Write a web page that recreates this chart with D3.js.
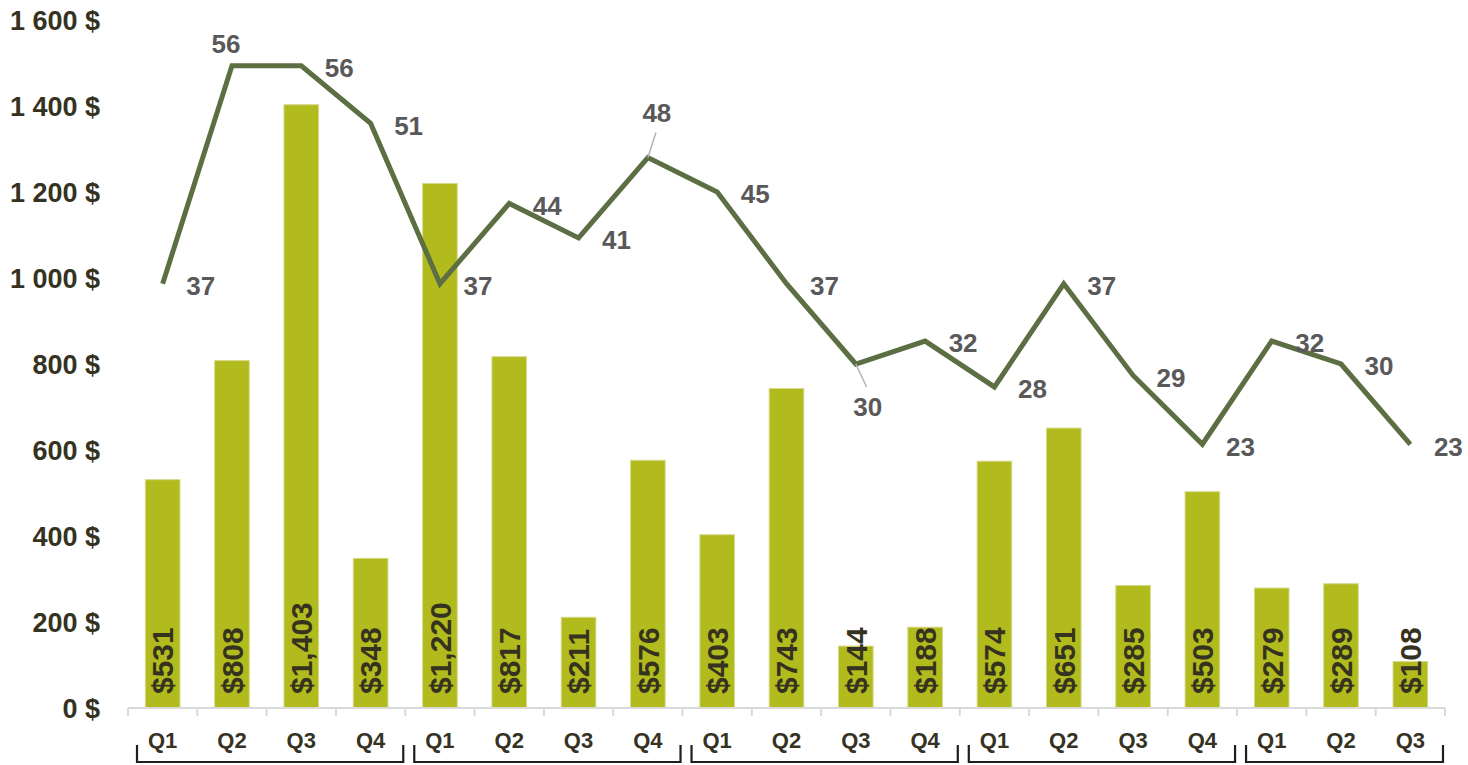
<!DOCTYPE html>
<html>
<head>
<meta charset="utf-8">
<script src="https://cdn.jsdelivr.net/npm/d3@7"></script>
<style>
  body { margin: 0; background: #fff; }
  svg text { font-family: "Liberation Sans", Arial, sans-serif; font-weight: bold; }
</style>
</head>
<body>
<div id="chart"></div>
<script>
// quarters, one bar per quarter
const quarters = ['Q1', 'Q2', 'Q3', 'Q4', 'Q1', 'Q2', 'Q3', 'Q4', 'Q1', 'Q2', 'Q3', 'Q4',
  'Q1', 'Q2', 'Q3', 'Q4', 'Q1', 'Q2', 'Q3'];
const groupSizes = [4, 4, 4, 4, 3];
const amounts = [531, 808, 1403, 348, 1220, 817, 211, 576, 403, 743, 144, 188,
  574, 651, 285, 503, 279, 289, 108];
const counts = [37, 56, 56, 51, 37, 44, 41, 48, 45, 37, 30, 32, 28, 37, 29, 23, 32, 30, 23];
const yTicks = [0, 200, 400, 600, 800, 1000, 1200, 1400, 1600];

const width = 1468;
const height = 765;
const margin = { top: 20, right: 23, bottom: 57, left: 128 };
const barColor = '#b2bb1e';
const lineColor = '#5c6f43';
const textDark = '#35321f';

const svg = d3.select('#chart')
  .append('svg')
  .attr('width', width)
  .attr('height', height);

const idx = d3.range(quarters.length);

const x = d3.scaleBand()
  .domain(idx)
  .range([margin.left, width - margin.right])
  .paddingInner(0.5)
  .paddingOuter(0.25);

const y = d3.scaleLinear()
  .domain([0, 1600])
  .range([height - margin.bottom, margin.top]);

const y2 = d3.scaleLinear()
  .domain([0, 60])
  .range([height - margin.bottom, margin.top]);

const fmt = d3.format('$,');
const spaceFmt = d => d3.format(',')(d).replace(',', ' ') + ' $';

// y axis labels
svg.append('g')
  .selectAll('text')
  .data(yTicks)
  .enter()
  .append('text')
  .attr('x', 100)
  .attr('y', d => y(d))
  .attr('dy', '0.36em')
  .attr('text-anchor', 'end')
  .attr('fill', textDark)
  .style('font-size', '27px')
  .text(spaceFmt);

// bars
svg.append('g')
  .selectAll('rect')
  .data(idx)
  .enter()
  .append('rect')
  .attr('x', i => x(i))
  .attr('y', i => y(amounts[i]))
  .attr('width', x.bandwidth())
  .attr('height', i => y(0) - y(amounts[i]))
  .attr('fill', barColor)
  .attr('stroke', '#d6da8c')
  .attr('stroke-width', 1);

// x axis line + ticks
const x0 = margin.left;
const x1 = width - margin.right;
const step = x.step();
const axis = svg.append('g').attr('stroke', '#d9d9d9').attr('stroke-width', 2);
axis.append('line')
  .attr('x1', x0).attr('x2', x1)
  .attr('y1', y(0)).attr('y2', y(0));
axis.selectAll('.tick')
  .data(d3.range(quarters.length + 1))
  .enter()
  .append('line')
  .attr('x1', i => x0 + i * step)
  .attr('x2', i => x0 + i * step)
  .attr('y1', y(0))
  .attr('y2', y(0) + 8);

// bar value labels, rotated
svg.append('g')
  .selectAll('text')
  .data(idx)
  .enter()
  .append('text')
  .attr('transform', i => `translate(${x(i) + x.bandwidth() / 2},${y(0) - 14}) rotate(-90)`)
  .attr('dy', '0.36em')
  .attr('fill', textDark)
  .style('font-size', '30px')
  .text(i => fmt(amounts[i]));

// quarter labels
svg.append('g')
  .selectAll('text')
  .data(idx)
  .enter()
  .append('text')
  .attr('x', i => x(i) + x.bandwidth() / 2)
  .attr('y', 740)
  .attr('dy', '0.36em')
  .attr('text-anchor', 'middle')
  .attr('fill', textDark)
  .style('font-size', '22px')
  .text(i => quarters[i]);

// year brackets
let start = 0;
const brackets = svg.append('g')
  .attr('fill', 'none')
  .attr('stroke', '#1e1e1e')
  .attr('stroke-width', 2.2);
groupSizes.forEach(n => {
  const bx0 = x0 + start * step + 9;
  const bx1 = x0 + (start + n) * step - 2;
  brackets.append('path')
    .attr('d', `M${bx0},745 V762 H${bx1} V745`);
  start += n;
});

// line
const line = d3.line()
  .x(i => x(i) + x.bandwidth() / 2)
  .y(i => y2(counts[i]));

svg.append('path')
  .datum(idx)
  .attr('d', line)
  .attr('fill', 'none')
  .attr('stroke', lineColor)
  .attr('stroke-width', 5)
  .attr('stroke-linejoin', 'miter');

// line labels: most sit to the right; a few are moved with a leader line
const special = {
  1: { dx: -6, dy: -22, leader: false },
  7: { dx: 9, dy: -45, leader: true },
  10: { dx: 12, dy: 43, leader: true },
};

const labels = svg.append('g');
idx.forEach(i => {
  const px = x(i) + x.bandwidth() / 2;
  const py = y2(counts[i]);
  const s = special[i];
  let lx = px + 38;
  let ly = py + 2;
  if (s) {
    lx = px + s.dx;
    ly = py + s.dy;
    if (s.leader) {
      labels.append('line')
        .attr('x1', px)
        .attr('y1', py)
        .attr('x2', px + s.dx * 0.9)
        .attr('y2', py + (s.dy > 0 ? s.dy - 20 : s.dy + 20))
        .attr('stroke', '#b3b3b3')
        .attr('stroke-width', 1.5);
    }
  }
  labels.append('text')
    .attr('x', lx)
    .attr('y', ly)
    .attr('dy', '0.36em')
    .attr('text-anchor', 'middle')
    .attr('fill', '#595959')
    .style('font-size', '26px')
    .text(counts[i]);
});
</script>
</body>
</html>
